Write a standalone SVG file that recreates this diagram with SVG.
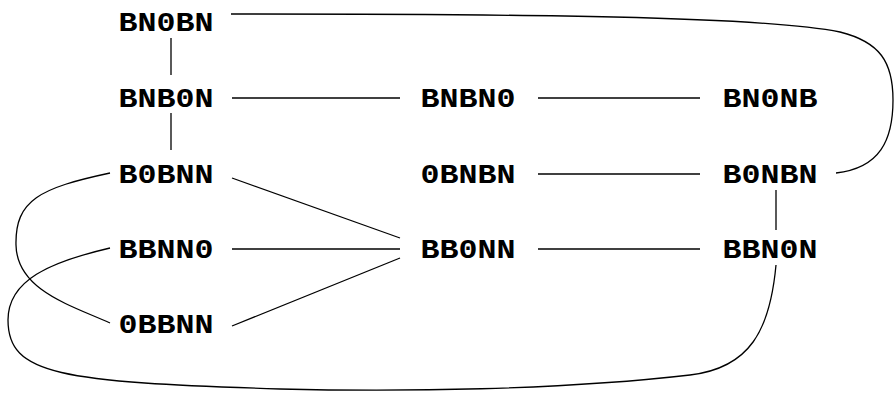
<svg xmlns="http://www.w3.org/2000/svg" width="894" height="394" viewBox="0 0 894 394">
<style>
text{font-family:"Liberation Mono","DejaVu Sans Mono",monospace;font-weight:bold;font-size:28px;text-anchor:middle;fill:#000}
.e{fill:none;stroke:#000;stroke-width:1.3}
</style>
<rect width="894" height="394" fill="#fff"/>
<g id="edges">
<path class="e" d="M171,38 V75"/>
<path class="e" d="M171,113 V150"/>
<path class="e" d="M232,98 H400"/>
<path class="e" d="M538,98 H700"/>
<path class="e" d="M538,174 H700"/>
<path class="e" d="M776,190 V230"/>
<path class="e" d="M538,249 H700"/>
<path class="e" d="M232,249 H400"/>
<path class="e" d="M232,178 L400,238"/>
<path class="e" d="M232,326 L400,258"/>
<path class="e" d="M231,14 C520,14 760,16 840,32 C880,42 893,62 893,100 C893,140 880,168 836,173"/>
<path class="e" d="M110,173 C40,188 15,200 16,245 C17,290 70,305 110,323"/>
<path class="e" d="M110,248 C50,262 8,280 8,320 C8,375 60,382 280,389 C400,392 560,390 690,375 C750,368 770,330 776,265"/>
</g>
<g id="BN0BN"><text x="166" y="31" textLength="95" lengthAdjust="spacingAndGlyphs">BN0BN</text></g>
<g id="BNB0N"><text x="166" y="107" textLength="95" lengthAdjust="spacingAndGlyphs">BNB0N</text></g>
<g id="B0BNN"><text x="166" y="183" textLength="95" lengthAdjust="spacingAndGlyphs">B0BNN</text></g>
<g id="BBNN0"><text x="166" y="258" textLength="95" lengthAdjust="spacingAndGlyphs">BBNN0</text></g>
<g id="0BBNN"><text x="166" y="333" textLength="95" lengthAdjust="spacingAndGlyphs">0BBNN</text></g>
<g id="BNBN0"><text x="468" y="107" textLength="95" lengthAdjust="spacingAndGlyphs">BNBN0</text></g>
<g id="0BNBN"><text x="468" y="183" textLength="95" lengthAdjust="spacingAndGlyphs">0BNBN</text></g>
<g id="BB0NN"><text x="468" y="258" textLength="95" lengthAdjust="spacingAndGlyphs">BB0NN</text></g>
<g id="BN0NB"><text x="770" y="107" textLength="95" lengthAdjust="spacingAndGlyphs">BN0NB</text></g>
<g id="B0NBN"><text x="770" y="183" textLength="95" lengthAdjust="spacingAndGlyphs">B0NBN</text></g>
<g id="BBN0N"><text x="770" y="258" textLength="95" lengthAdjust="spacingAndGlyphs">BBN0N</text></g>
</svg>
